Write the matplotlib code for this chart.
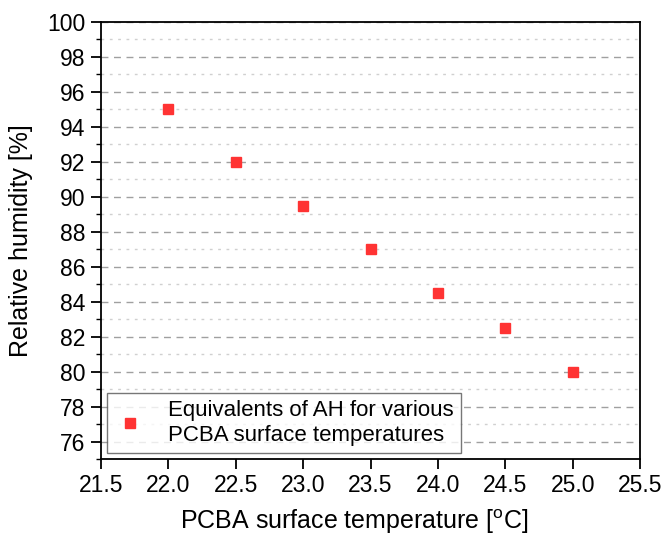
import numpy as np
import matplotlib
matplotlib.use("Agg")
import matplotlib.pyplot as plt
from matplotlib.ticker import MultipleLocator, FormatStrFormatter

plt.rcParams['font.family'] = ['Liberation Sans', 'DejaVu Sans']

# data
temperature = [22.0, 22.5, 23.0, 23.5, 24.0, 24.5, 25.0]
humidity = [95.0, 92.0, 89.5, 87.0, 84.5, 82.5, 80.0]

fig = plt.figure(figsize=(6.63, 5.38), dpi=100)
ax = fig.add_axes([101/663, 1 - 459/538, (640-101)/663, (459-22)/538])

ax.plot(temperature, humidity, linestyle='none', marker='s', markersize=7.5,
        color='#ff3333', markeredgecolor='#ff3333',
        label='Equivalents of AH for various\nPCBA surface temperatures', zorder=3)

ax.set_xlim(21.5, 25.5)
ax.set_ylim(75, 100)
ax.xaxis.set_major_locator(MultipleLocator(0.5))
ax.yaxis.set_major_locator(MultipleLocator(2))
ax.yaxis.set_minor_locator(MultipleLocator(1))
ax.xaxis.set_major_formatter(FormatStrFormatter('%.1f'))

ax.tick_params(axis='both', which='major', direction='out', length=7, width=1.3,
               labelsize=16.5, top=False, right=False, pad=4)
ax.tick_params(axis='y', which='minor', direction='out', length=3.5, width=1.0, right=False)

ax.grid(True, axis='y', which='major', linestyle=(0, (5, 4)), color='#a0a0a0', linewidth=1.0)
ax.grid(True, axis='y', which='minor', linestyle=(0, (2, 4)), color='#d0d0d0', linewidth=1.0)
ax.set_axisbelow(True)

for s in ax.spines.values():
    s.set_linewidth(1.3)

ax.set_xlabel('PCBA surface temperature [$\\mathregular{^{o}}$C]', fontsize=18)
ax.xaxis.set_label_coords(0.47, -0.11)
ax.set_ylabel('Relative humidity [%]', fontsize=18)
ax.yaxis.set_label_coords(-0.127, 0.5)

leg = ax.legend(loc='lower left', fontsize=16, frameon=True, fancybox=False,
                edgecolor='#555555', handletextpad=1.0, borderpad=0.35,
                bbox_to_anchor=(0.0, 0.0), handlelength=1.4, borderaxespad=0.25)
leg.get_frame().set_linewidth(1.0)

fig.savefig('out.png', dpi=100)
